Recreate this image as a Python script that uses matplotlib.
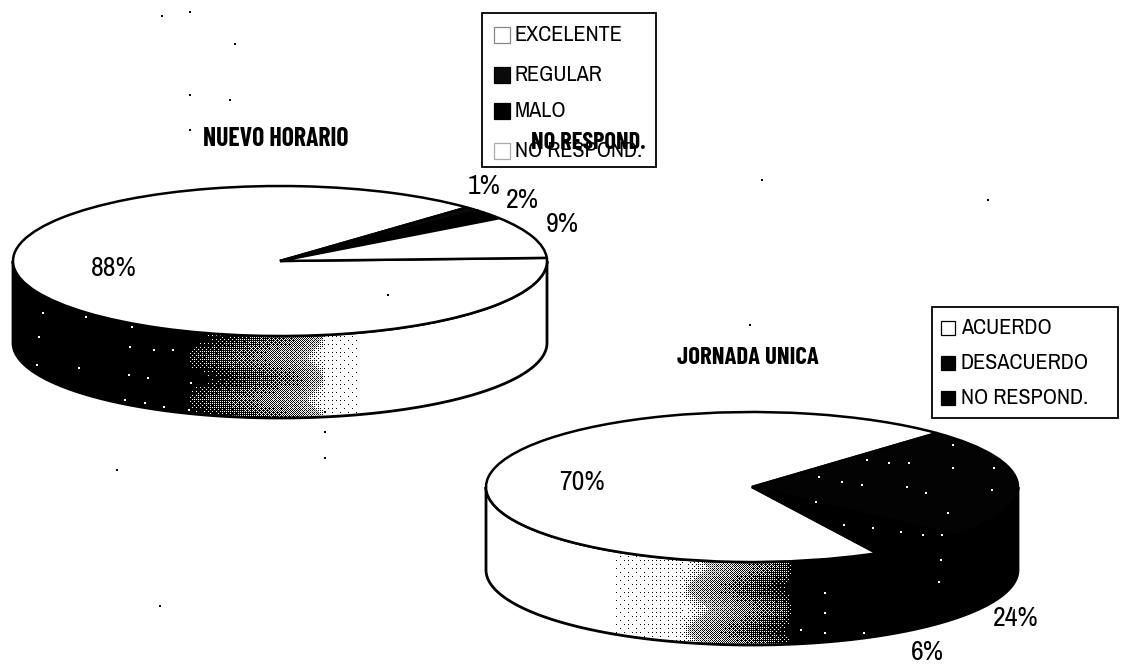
import matplotlib
matplotlib.use("Agg")
import matplotlib.pyplot as plt
import numpy as np
from matplotlib.patches import PathPatch, Rectangle
from matplotlib.path import Path

WIDTH, HEIGHT = 1122, 664
NARROW = ["Archivo Narrow", "Liberation Sans", "DejaVu Sans"]
NARROW_BOLD = ["Barlow Condensed", "Liberation Sans", "DejaVu Sans"]

# first pie
horario_labels = ["EXCELENTE", "REGULAR", "MALO", "NO RESPOND."]
horario_values = [88, 1, 2, 9]
horario_colors = ["white", "#0a0a0a", "black", "white"]

# second pie
jornada_labels = ["ACUERDO", "DESACUERDO", "NO RESPOND."]
jornada_values = [70, 24, 6]
jornada_colors = ["white", "#030303", "black"]

# stray scanner dots on the page
speck_x = [162, 190, 235, 190, 190, 117, 325, 325, 160, 762, 988, 750, 388, 325, 230]
speck_y = [16, 12, 44, 95, 130, 470, 432, 458, 606, 180, 200, 325, 295, 412, 100]

# white flecks inside the black areas of both pies
fleck_x = [43, 86, 132, 130, 154, 173, 39, 37, 79, 129, 148, 191, 125, 145, 164, 189,
           941, 939, 825, 825, 825, 801, 864,
           819, 842, 862, 867, 907, 909, 889, 953, 953, 994, 992, 948, 816, 844, 873, 901, 923, 942, 926]
fleck_y = [313, 317, 327, 347, 350, 350, 337, 365, 368, 375, 378, 383, 400, 403, 407, 410,
           560, 582, 593, 613, 633, 630, 633,
           477, 482, 485, 460, 487, 463, 463, 445, 468, 468, 490, 513, 502, 525, 528, 532, 535, 535, 493]


def bayer(levels):
    """Build an ordered dither tile."""
    tile = np.array([[0]])
    for _ in range(levels):
        tile = np.block([[4 * tile, 4 * tile + 2], [4 * tile + 3, 4 * tile + 1]])
    return (tile + 0.5) / tile.size


def draw_side(ax, cx, cy, rx, ry, depth, stops, darkness):
    """Draw the shaded rim of a pie below its top ellipse."""
    t = np.linspace(np.pi, 0, 120)
    xs = cx - rx * np.cos(np.pi - t)
    ys = cy + ry * np.sin(t)
    verts = list(zip(xs, ys)) + list(zip(xs[::-1], ys[::-1] + depth)) + [(xs[0], ys[0])]
    codes = [Path.MOVETO] + [Path.LINETO] * (len(verts) - 2) + [Path.CLOSEPOLY]
    rim = PathPatch(Path(verts, codes), facecolor="none", edgecolor="black", lw=2, zorder=3)
    ax.add_patch(rim)

    left, right = int(cx - rx), int(cx + rx)
    top, bottom = int(cy - ry), int(cy + ry + depth) + 1
    grid_x, grid_y = np.meshgrid(np.arange(left, right), np.arange(top, bottom))
    tile = bayer(4)
    thresholds = tile[grid_y % 16, grid_x % 16]
    shade = np.interp(grid_x, stops, darkness)
    # blotchy bands in the halftone, only where the shade is changing
    changing = (shade > 0.1) & (shade < 0.98)
    shade = np.where(changing, shade + 0.1 * np.cos(2 * np.pi * grid_y / 42), shade)
    image = np.where(shade > thresholds, 0.0, 1.0)
    # gray checker in the transition band, like the halftone of the scan
    middle = (shade > 0.25) & (shade < 0.85)
    image[middle & ((grid_x + grid_y) % 2 == 0) & (image == 1.0)] = 0.55
    picture = ax.imshow(image, cmap="gray", vmin=0, vmax=1, interpolation="nearest",
                        extent=(left, right, bottom, top), zorder=2, aspect="auto")
    picture.set_clip_path(rim)


def draw_top(fig, cx, cy, rx, ry, values, colors, startangle):
    """Draw the top face with a pie squeezed into an ellipse."""
    ax = fig.add_axes([(cx - rx) / WIDTH, 1 - (cy + ry) / HEIGHT, 2 * rx / WIDTH, 2 * ry / HEIGHT],
                      zorder=2)
    ax.pie(values, colors=colors, startangle=startangle, counterclock=False, radius=1,
           wedgeprops={"edgecolor": "black", "linewidth": 1.8, "clip_on": False})
    ax.set_xlim(-1, 1)
    ax.set_ylim(-1, 1)
    ax.set_aspect("auto")
    ax.patch.set_alpha(0)


def draw_legend(ax, box, labels, colors, edges, rows, swatch_x, swatch_size, text_x):
    """Draw a hand placed legend box."""
    x0, y0, x1, y1 = box
    ax.add_patch(Rectangle((x0, y0), x1 - x0, y1 - y0, facecolor="white", edgecolor="black", lw=1.3))
    for label, color, edge, row in zip(labels, colors, edges, rows):
        ax.add_patch(Rectangle((swatch_x, row - swatch_size / 2), swatch_size, swatch_size,
                               facecolor=color, edgecolor=edge, lw=0.9))
        ax.text(text_x, row, label, family=NARROW, fontsize=16, va="center", ha="left", color="black")


def main():
    fig = plt.figure(figsize=(WIDTH / 100, HEIGHT / 100), dpi=100, facecolor="white")

    base = fig.add_axes([0, 0, 1, 1], zorder=1)
    base.set_xlim(0, WIDTH)
    base.set_ylim(HEIGHT, 0)
    base.axis("off")

    overlay = fig.add_axes([0, 0, 1, 1], zorder=3)
    overlay.set_xlim(0, WIDTH)
    overlay.set_ylim(HEIGHT, 0)
    overlay.axis("off")
    overlay.patch.set_alpha(0)

    draw_side(base, 280, 261, 267, 75, 82,
              [13, 185, 215, 255, 300, 320, 326, 357, 360, 547],
              [1, 1, 0.85, 0.65, 0.45, 0.2, 0.05, 0.03, 0, 0])
    draw_side(base, 752, 487, 266, 75, 83,
              [485, 610, 615, 680, 700, 745, 785, 792, 1018],
              [0, 0, 0.03, 0.06, 0.3, 0.6, 0.85, 1, 1])
    base.set_xlim(0, WIDTH)
    base.set_ylim(HEIGHT, 0)

    draw_top(fig, 280, 261, 267, 75, horario_values, horario_colors, 2.4)
    draw_top(fig, 752, 487, 266, 75, jornada_values, jornada_colors, 298)

    overlay.scatter(speck_x, speck_y, s=2.5, color="black", marker="s", linewidths=0)
    overlay.scatter(fleck_x, fleck_y, s=3, color="white", marker="s", linewidths=0)

    draw_legend(overlay, (482, 13, 656, 167), horario_labels, horario_colors,
                ["#888888", "black", "black", "#aaaaaa"], [35, 75, 111, 151], 494, 16, 515)
    overlay.text(531, 143, "NO RESPOND.", family=NARROW_BOLD, fontsize=17.5, fontweight="bold",
                 va="center", ha="left")
    draw_legend(overlay, (932, 307, 1118, 418), jornada_labels, jornada_colors,
                ["black", "black", "black"], [328, 363, 398], 941, 14, 961)

    overlay.text(203, 139, "NUEVO HORARIO", family=NARROW_BOLD, fontsize=18.5, fontweight="bold", va="center")
    overlay.text(677, 358, "JORNADA UNICA", family=NARROW_BOLD, fontsize=17.8, fontweight="bold", va="center")

    percent_text = {
        "88%": (114, 269), "1%": (484, 186), "2%": (522, 200), "9%": (562, 225),
        "70%": (582, 483), "24%": (1016, 618), "6%": (927, 653),
    }
    for text, (x, y) in percent_text.items():
        overlay.text(x, y, text, family=NARROW, fontsize=20, ha="center", va="center")

    fig.savefig("out.png", dpi=100)
    plt.close(fig)


if __name__ == "__main__":
    main()
